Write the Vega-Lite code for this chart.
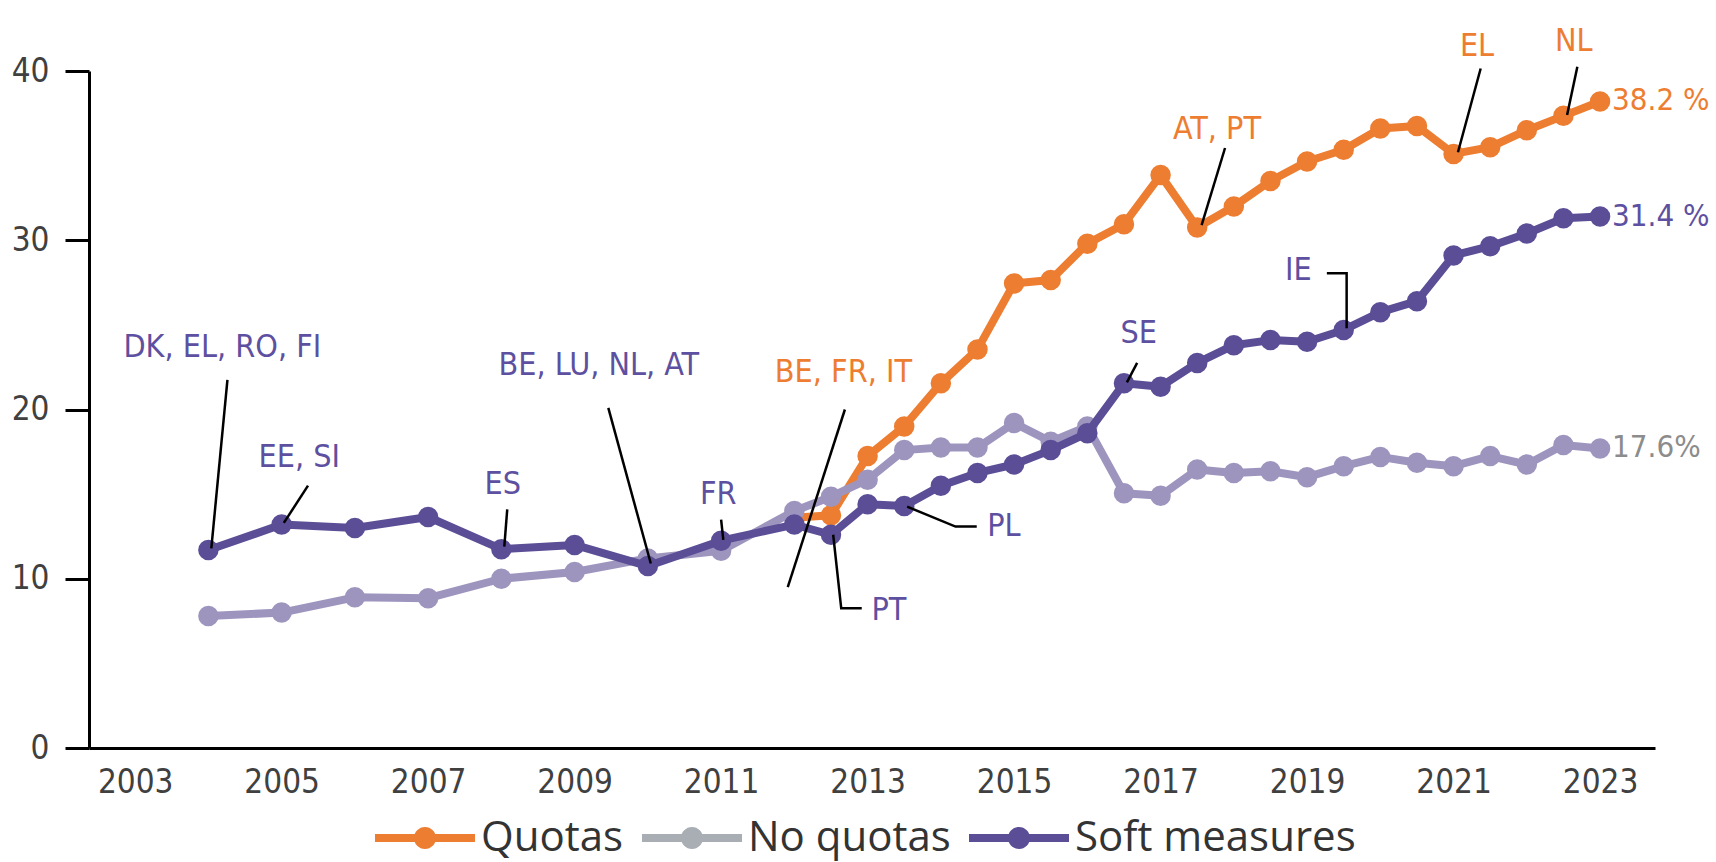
{
  "$schema": "https://vega.github.io/schema/vega-lite/v6.json",
  "width": 1566,
  "height": 677,
  "autosize": "none",
  "padding": {"left": 89, "top": 71, "right": 61, "bottom": 114},
  "background": "white",
  "config": {
    "view": {"stroke": null},
    "font": "'Liberation Sans Narrow', 'DejaVu Sans Condensed', sans-serif"
  },
  "datasets": {
    "series": [
      {"s": "No quotas", "x": 2004, "y": 7.8},
      {"s": "No quotas", "x": 2005, "y": 8.0},
      {"s": "No quotas", "x": 2006, "y": 8.9},
      {"s": "No quotas", "x": 2007, "y": 8.85},
      {"s": "No quotas", "x": 2008, "y": 10.0},
      {"s": "No quotas", "x": 2009, "y": 10.4},
      {"s": "No quotas", "x": 2010, "y": 11.2},
      {"s": "No quotas", "x": 2011, "y": 11.65},
      {"s": "No quotas", "x": 2012, "y": 14.0},
      {"s": "No quotas", "x": 2012.5, "y": 14.85},
      {"s": "No quotas", "x": 2013, "y": 15.85},
      {"s": "No quotas", "x": 2013.5, "y": 17.6},
      {"s": "No quotas", "x": 2014, "y": 17.75},
      {"s": "No quotas", "x": 2014.5, "y": 17.75},
      {"s": "No quotas", "x": 2015, "y": 19.2},
      {"s": "No quotas", "x": 2015.5, "y": 18.1},
      {"s": "No quotas", "x": 2016, "y": 19.0},
      {"s": "No quotas", "x": 2016.5, "y": 15.05},
      {"s": "No quotas", "x": 2017, "y": 14.9},
      {"s": "No quotas", "x": 2017.5, "y": 16.45},
      {"s": "No quotas", "x": 2018, "y": 16.25},
      {"s": "No quotas", "x": 2018.5, "y": 16.35},
      {"s": "No quotas", "x": 2019, "y": 16.0},
      {"s": "No quotas", "x": 2019.5, "y": 16.65},
      {"s": "No quotas", "x": 2020, "y": 17.2},
      {"s": "No quotas", "x": 2020.5, "y": 16.85},
      {"s": "No quotas", "x": 2021, "y": 16.65},
      {"s": "No quotas", "x": 2021.5, "y": 17.25},
      {"s": "No quotas", "x": 2022, "y": 16.75},
      {"s": "No quotas", "x": 2022.5, "y": 17.9},
      {"s": "No quotas", "x": 2023, "y": 17.7},
      {"s": "Quotas", "x": 2012, "y": 13.6},
      {"s": "Quotas", "x": 2012.5, "y": 13.75},
      {"s": "Quotas", "x": 2013, "y": 17.25},
      {"s": "Quotas", "x": 2013.5, "y": 19.0},
      {"s": "Quotas", "x": 2014, "y": 21.55},
      {"s": "Quotas", "x": 2014.5, "y": 23.55},
      {"s": "Quotas", "x": 2015, "y": 27.45},
      {"s": "Quotas", "x": 2015.5, "y": 27.65},
      {"s": "Quotas", "x": 2016, "y": 29.8},
      {"s": "Quotas", "x": 2016.5, "y": 30.95},
      {"s": "Quotas", "x": 2017, "y": 33.85},
      {"s": "Quotas", "x": 2017.5, "y": 30.75},
      {"s": "Quotas", "x": 2018, "y": 32.0},
      {"s": "Quotas", "x": 2018.5, "y": 33.5},
      {"s": "Quotas", "x": 2019, "y": 34.65},
      {"s": "Quotas", "x": 2019.5, "y": 35.35},
      {"s": "Quotas", "x": 2020, "y": 36.6},
      {"s": "Quotas", "x": 2020.5, "y": 36.75},
      {"s": "Quotas", "x": 2021, "y": 35.1},
      {"s": "Quotas", "x": 2021.5, "y": 35.5},
      {"s": "Quotas", "x": 2022, "y": 36.5},
      {"s": "Quotas", "x": 2022.5, "y": 37.35},
      {"s": "Quotas", "x": 2023, "y": 38.2},
      {"s": "Soft measures", "x": 2004, "y": 11.7},
      {"s": "Soft measures", "x": 2005, "y": 13.2},
      {"s": "Soft measures", "x": 2006, "y": 13.0},
      {"s": "Soft measures", "x": 2007, "y": 13.65},
      {"s": "Soft measures", "x": 2008, "y": 11.75},
      {"s": "Soft measures", "x": 2009, "y": 12.0},
      {"s": "Soft measures", "x": 2010, "y": 10.75},
      {"s": "Soft measures", "x": 2011, "y": 12.25},
      {"s": "Soft measures", "x": 2012, "y": 13.2},
      {"s": "Soft measures", "x": 2012.5, "y": 12.6},
      {"s": "Soft measures", "x": 2013, "y": 14.4},
      {"s": "Soft measures", "x": 2013.5, "y": 14.3},
      {"s": "Soft measures", "x": 2014, "y": 15.5},
      {"s": "Soft measures", "x": 2014.5, "y": 16.25},
      {"s": "Soft measures", "x": 2015, "y": 16.75},
      {"s": "Soft measures", "x": 2015.5, "y": 17.6},
      {"s": "Soft measures", "x": 2016, "y": 18.6},
      {"s": "Soft measures", "x": 2016.5, "y": 21.55},
      {"s": "Soft measures", "x": 2017, "y": 21.35},
      {"s": "Soft measures", "x": 2017.5, "y": 22.75},
      {"s": "Soft measures", "x": 2018, "y": 23.8},
      {"s": "Soft measures", "x": 2018.5, "y": 24.1},
      {"s": "Soft measures", "x": 2019, "y": 24.0},
      {"s": "Soft measures", "x": 2019.5, "y": 24.7},
      {"s": "Soft measures", "x": 2020, "y": 25.75},
      {"s": "Soft measures", "x": 2020.5, "y": 26.4},
      {"s": "Soft measures", "x": 2021, "y": 29.1},
      {"s": "Soft measures", "x": 2021.5, "y": 29.65},
      {"s": "Soft measures", "x": 2022, "y": 30.4},
      {"s": "Soft measures", "x": 2022.5, "y": 31.3},
      {"s": "Soft measures", "x": 2023, "y": 31.4}
    ],
    "ann": [
      {"label": "DK, EL, RO, FI", "x": 2004.19, "y": 23.7, "g": "p"},
      {"label": "EE, SI", "x": 2005.24, "y": 17.2, "g": "p"},
      {"label": "ES", "x": 2008.02, "y": 15.6, "g": "p"},
      {"label": "BE, LU, NL, AT", "x": 2009.33, "y": 22.6, "g": "p"},
      {"label": "FR", "x": 2010.96, "y": 15.0, "g": "p"},
      {"label": "BE, FR, IT", "x": 2012.67, "y": 22.2, "g": "q"},
      {"label": "PT", "x": 2013.29, "y": 8.15, "g": "p"},
      {"label": "PL", "x": 2014.86, "y": 13.1, "g": "p"},
      {"label": "SE", "x": 2016.7, "y": 24.5, "g": "p"},
      {"label": "AT, PT", "x": 2017.77, "y": 36.6, "g": "q"},
      {"label": "IE", "x": 2018.88, "y": 28.25, "g": "p"},
      {"label": "EL", "x": 2021.32, "y": 41.5, "g": "q"},
      {"label": "NL", "x": 2022.64, "y": 41.75, "g": "q"}
    ],
    "lead": [
      {"id": "DK", "o": 1, "x": 2004.26, "y": 21.75},
      {"id": "DK", "o": 2, "x": 2004.04, "y": 11.8},
      {"id": "EE", "o": 1, "x": 2005.36, "y": 15.5},
      {"id": "EE", "o": 2, "x": 2005.03, "y": 13.3},
      {"id": "ES", "o": 1, "x": 2008.08, "y": 14.1},
      {"id": "ES", "o": 2, "x": 2008.04, "y": 11.9},
      {"id": "BE1", "o": 1, "x": 2009.46, "y": 20.1},
      {"id": "BE1", "o": 2, "x": 2010.04, "y": 10.9},
      {"id": "FR", "o": 1, "x": 2011.0, "y": 13.5},
      {"id": "FR", "o": 2, "x": 2011.03, "y": 12.3},
      {"id": "BE2", "o": 1, "x": 2012.69, "y": 20.0},
      {"id": "BE2", "o": 2, "x": 2011.91, "y": 9.5},
      {"id": "PT", "o": 1, "x": 2012.53, "y": 12.6},
      {"id": "PT", "o": 2, "x": 2012.64, "y": 8.25},
      {"id": "PT", "o": 3, "x": 2012.92, "y": 8.25},
      {"id": "PL", "o": 1, "x": 2013.54, "y": 14.26},
      {"id": "PL", "o": 2, "x": 2014.2, "y": 13.08},
      {"id": "PL", "o": 3, "x": 2014.49, "y": 13.08},
      {"id": "SE", "o": 1, "x": 2016.68, "y": 22.75},
      {"id": "SE", "o": 2, "x": 2016.54, "y": 21.6},
      {"id": "AT", "o": 1, "x": 2017.88, "y": 35.45},
      {"id": "AT", "o": 2, "x": 2017.56, "y": 30.9},
      {"id": "IE", "o": 1, "x": 2019.27, "y": 28.05},
      {"id": "IE", "o": 2, "x": 2019.54, "y": 28.05},
      {"id": "IE", "o": 3, "x": 2019.54, "y": 24.8},
      {"id": "EL", "o": 1, "x": 2021.37, "y": 40.15},
      {"id": "EL", "o": 2, "x": 2021.06, "y": 35.2},
      {"id": "NL", "o": 1, "x": 2022.69, "y": 40.25},
      {"id": "NL", "o": 2, "x": 2022.55, "y": 37.4}
    ],
    "ends": [
      {"label": "38.2 %", "x": 2023, "y": 38.2, "g": "q"},
      {"label": "31.4 %", "x": 2023, "y": 31.4, "g": "p"},
      {"label": "17.6%", "x": 2023, "y": 17.7, "g": "n"}
    ]
  },
  "encoding": {
    "x": {
      "field": "x", "type": "quantitative",
      "scale": {"domain": [2002.37, 2023.75], "nice": false, "zero": false},
      "axis": {
        "values": [2003, 2005, 2007, 2009, 2011, 2013, 2015, 2017, 2019, 2021, 2023],
        "format": "d", "title": null, "grid": false, "ticks": false,
        "domainColor": "#000000", "domainWidth": 3,
        "labelFontSize": 33, "labelColor": "#404040", "labelPadding": 18
      }
    },
    "y": {
      "field": "y", "type": "quantitative",
      "scale": {"domain": [0, 40], "nice": false},
      "axis": {
        "values": [0, 10, 20, 30, 40],
        "title": null, "grid": false,
        "tickSize": 24, "tickWidth": 3, "tickColor": "#000000",
        "domainColor": "#000000", "domainWidth": 3,
        "labelFontSize": 33, "labelColor": "#404040", "labelPadding": 16
      }
    }
  },
  "layer": [
    {
      "data": {"name": "series"},
      "transform": [{"filter": "datum.s === 'Quotas'"}],
      "mark": {"type": "line", "color": "#ED7D31", "strokeWidth": 8, "strokeJoin": "round", "strokeCap": "round"},
      "encoding": {"order": {"field": "x", "type": "quantitative"}}
    },
    {
      "data": {"name": "series"},
      "transform": [{"filter": "datum.s === 'Quotas'"}],
      "mark": {"type": "circle", "color": "#ED7D31", "size": 420, "opacity": 1}
    },
    {
      "data": {"name": "series"},
      "transform": [{"filter": "datum.s === 'No quotas'"}],
      "mark": {"type": "line", "color": "#9E95BF", "strokeWidth": 8, "strokeJoin": "round", "strokeCap": "round"},
      "encoding": {"order": {"field": "x", "type": "quantitative"}}
    },
    {
      "data": {"name": "series"},
      "transform": [{"filter": "datum.s === 'No quotas'"}],
      "mark": {"type": "circle", "color": "#9E95BF", "size": 420, "opacity": 1}
    },
    {
      "data": {"name": "series"},
      "transform": [{"filter": "datum.s === 'Soft measures'"}],
      "mark": {"type": "line", "color": "#5B4E96", "strokeWidth": 8, "strokeJoin": "round", "strokeCap": "round"},
      "encoding": {"order": {"field": "x", "type": "quantitative"}}
    },
    {
      "data": {"name": "series"},
      "transform": [{"filter": "datum.s === 'Soft measures'"}],
      "mark": {"type": "circle", "color": "#5B4E96", "size": 420, "opacity": 1}
    },
    {
      "data": {"name": "lead"},
      "mark": {"type": "line", "color": "#000000", "strokeWidth": 2.5},
      "encoding": {
        "detail": {"field": "id", "type": "nominal"},
        "order": {"field": "o", "type": "quantitative"}
      }
    },
    {
      "data": {"name": "ann"},
      "mark": {"type": "text", "fontSize": 32, "align": "center", "baseline": "middle"},
      "encoding": {
        "text": {"field": "label", "type": "nominal"},
        "color": {"condition": {"test": "datum.g === 'q'", "value": "#ED7D31"}, "value": "#5E50A0"}
      }
    },
    {
      "data": {"name": "ends"},
      "mark": {"type": "text", "fontSize": 31, "align": "left", "baseline": "middle", "dx": 12},
      "encoding": {
        "text": {"field": "label", "type": "nominal"},
        "color": {
          "condition": [
            {"test": "datum.g === 'q'", "value": "#ED7D31"},
            {"test": "datum.g === 'p'", "value": "#5E50A0"}
          ],
          "value": "#8C8C8C"
        }
      }
    },
    {
      "data": {"name": "series"},
      "transform": [{"filter": "false"}],
      "mark": {"type": "point", "filled": true, "opacity": 1},
      "encoding": {
        "color": {
          "field": "s", "type": "nominal",
          "scale": {"domain": ["Quotas", "No quotas", "Soft measures"], "range": ["#ED7D31", "#A9AEB4", "#5B4E96"]},
          "legend": {
            "title": null,
            "orient": "none",
            "direction": "horizontal",
            "legendX": 286,
            "legendY": 717,
            "symbolType": "M-1,-0.08H1V0.08H-1Z M-0.22,0A0.22,0.22 0 1,1 0.22,0A0.22,0.22 0 1,1 -0.22,0Z",
            "symbolSize": 10000,
            "symbolStrokeWidth": 0,
            "symbolOpacity": 1,
            "labelFont": "Open Sans",
            "labelFontSize": 42,
            "labelColor": "#333333",
            "labelOffset": 6,
            "columnPadding": 18,
            "labelLimit": 400
          }
        }
      }
    }
  ]
}
